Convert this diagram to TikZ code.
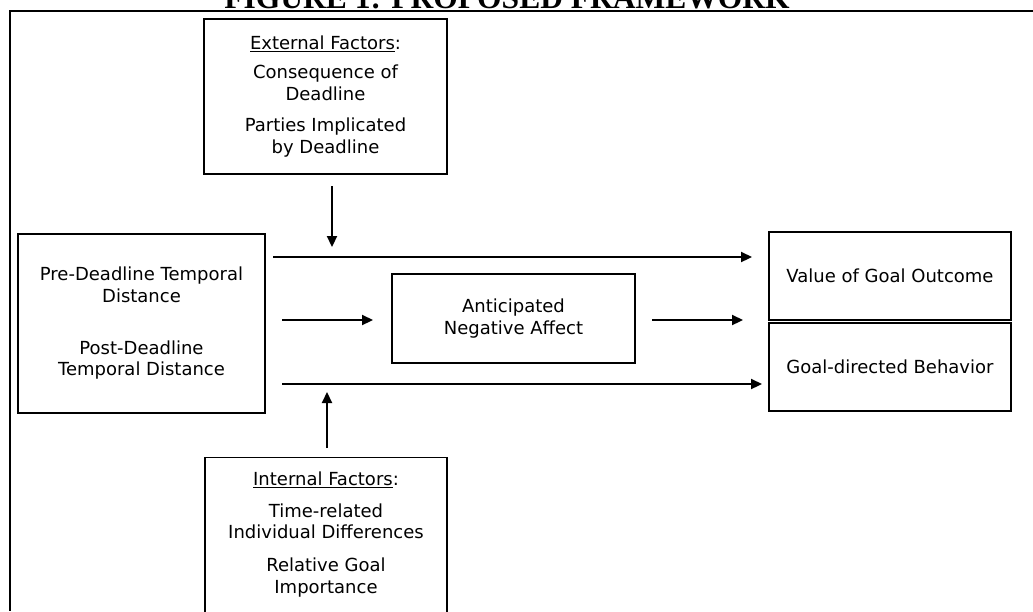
\documentclass[tikz,border=0pt]{standalone}
\usepackage{fontspec}
\setmainfont{DejaVu Sans}
\newfontfamily\titlefont{Liberation Serif}
\usetikzlibrary{arrows.meta}

\begin{document}
\begin{tikzpicture}[x=1pt,y=-1pt,
  box/.style={draw=black, line width=1.3pt, align=center, inner sep=0pt,
    font=\fontsize{18}{21.5}\selectfont},
  arr/.style={line width=2.2pt, -{Triangle[length=11pt,width=10pt]}}]
\useasboundingbox (0,0) rectangle (1033,611);
\clip (0,0) rectangle (1033,611);

% title and frame
\node[anchor=base, inner sep=0pt, font=\titlefont\bfseries\fontsize{31.5}{34}\selectfont] (title) at (507,8.5) {FIGURE 1: PROPOSED FRAMEWORK};
\draw[line width=1.5pt] (1033,11) -- (10,11) -- (10,611);

% boxes
\node[box, minimum width=243pt, minimum height=155pt] (ext) at (325.5,96.5)
  {\underline{External Factors}:\\[7.5pt] Consequence of\\ Deadline\\[10pt] Parties Implicated\\ by Deadline};
\node[box, minimum width=247pt, minimum height=179pt] (src) at (141.5,323.5)
  {Pre-Deadline Temporal\\ Distance\\[30.5pt] Post-Deadline\\ Temporal Distance};
\node[box, minimum width=243pt, minimum height=89pt] (neg) at (513.5,318.5)
  {Anticipated\\ Negative Affect};
\node[box, minimum width=242pt, minimum height=88pt] (value) at (890,276) {Value of Goal Outcome};
\node[box, minimum width=242pt, minimum height=88pt] (goal) at (890,367) {Goal-directed Behavior};
\node[box, minimum width=242pt, inner ysep=14pt, anchor=north] (int) at (326,457)
  {\underline{Internal Factors}:\\[10.5pt] Time-related\\ Individual Differences\\[11.5pt] Relative Goal\\ Importance\\[40pt]\mbox{}};

% free ends of the arrows
\coordinate (extout) at (332,186);
\coordinate (extin) at (332,247);
\coordinate (intout) at (327,448);
\coordinate (intin) at (327,392);
\coordinate (topa) at (273,257);
\coordinate (topb) at (752,257);
\coordinate (mida) at (282,320);
\coordinate (midb) at (373,320);
\coordinate (midc) at (652,320);
\coordinate (midd) at (743,320);
\coordinate (bota) at (282,384);
\coordinate (botb) at (762,384);

% arrows
\foreach \a/\b in {extout/extin, intout/intin, topa/topb, mida/midb, midc/midd, bota/botb}
  \draw[arr] (\a) -- (\b);

\end{tikzpicture}
\end{document}
